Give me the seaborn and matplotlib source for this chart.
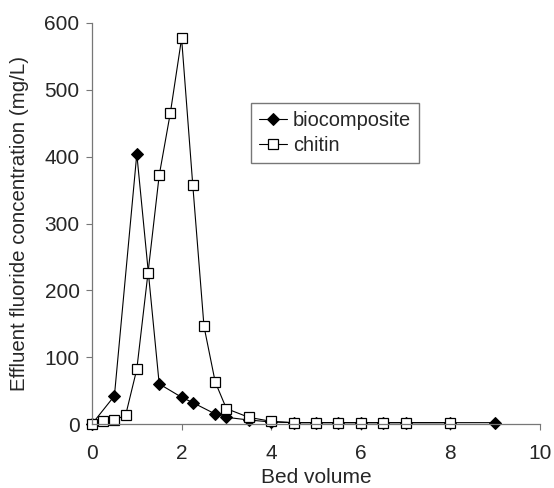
import matplotlib
matplotlib.use("Agg")
import matplotlib.pyplot as plt
import seaborn as sns
import pandas as pd

# Data
bio_x = [0, 0.5, 1.0, 1.5, 2.0, 2.25, 2.75, 3.0, 3.5, 4.0, 4.5, 5.0, 5.5, 6.0, 6.5, 7.0, 8.0, 9.0]
bio_y = [0, 42, 404, 60, 40, 32, 15, 10, 6, 3, 2, 2, 2, 2, 2, 2, 2, 2]

chitin_x = [0, 0.25, 0.5, 0.75, 1.0, 1.25, 1.5, 1.75, 2.0, 2.25, 2.5, 2.75, 3.0,
            3.5, 4.0, 4.5, 5.0, 5.5, 6.0, 6.5, 7.0, 8.0]
chitin_y = [0, 5, 6, 13, 82, 226, 372, 466, 577, 357, 146, 63, 23,
            10, 4, 2, 2, 2, 2, 2, 2, 2]

x_ticks = [0, 2, 4, 6, 8, 10]
y_ticks = [0, 100, 200, 300, 400, 500, 600]

sns.set_style("white")
plt.rcParams['font.family'] = ['Liberation Sans', 'DejaVu Sans']

fig = plt.figure(figsize=(5.54, 4.88), dpi=100)
ax = fig.add_axes([92/554, 1 - 424/488, 448/554, 401/488])

df_bio = pd.DataFrame({"x": bio_x, "y": bio_y})
df_chi = pd.DataFrame({"x": chitin_x, "y": chitin_y})

sns.lineplot(data=df_bio, x="x", y="y", ax=ax, color="black", linewidth=0.8,
             marker="D", markersize=6.5, markerfacecolor="black",
             markeredgecolor="black", label="biocomposite", clip_on=False,
             sort=False, estimator=None)
sns.lineplot(data=df_chi, x="x", y="y", ax=ax, color="black", linewidth=0.8,
             marker="s", markersize=7, markerfacecolor="white",
             markeredgecolor="black", markeredgewidth=0.9, label="chitin",
             clip_on=False, sort=False, estimator=None)

ax.set_xlim(0, 10)
ax.set_ylim(0, 600)
ax.set_xticks(x_ticks)
ax.set_yticks(y_ticks)
ax.set_xlabel("Bed volume", fontsize=15)
ax.set_ylabel("Effluent fluoride concentration (mg/L)", fontsize=14.8)
ax.xaxis.set_label_coords(0.5, -0.109)
ax.yaxis.set_label_coords(-0.141, 0.5)
ax.tick_params(axis="x", labelsize=15, direction="out", length=4.3, width=0.8,
               color="#777777", bottom=True, pad=10)
ax.tick_params(axis="y", labelsize=15, direction="out", length=4, width=0.8,
               color="#777777", left=True, pad=5)

for side in ["top", "right"]:
    ax.spines[side].set_visible(False)
for side in ["left", "bottom"]:
    ax.spines[side].set_color("#777777")
    ax.spines[side].set_linewidth(0.9)

leg = ax.legend(loc="upper left", bbox_to_anchor=(0.355, 0.80), borderaxespad=0,
                fontsize=14.4, fancybox=False, frameon=True, handlelength=1.4,
                handletextpad=0.3, borderpad=0.4, labelspacing=0.3)
leg.get_frame().set_edgecolor("#555555")
leg.get_frame().set_linewidth(1.0)

fig.savefig("out.png", dpi=100)
